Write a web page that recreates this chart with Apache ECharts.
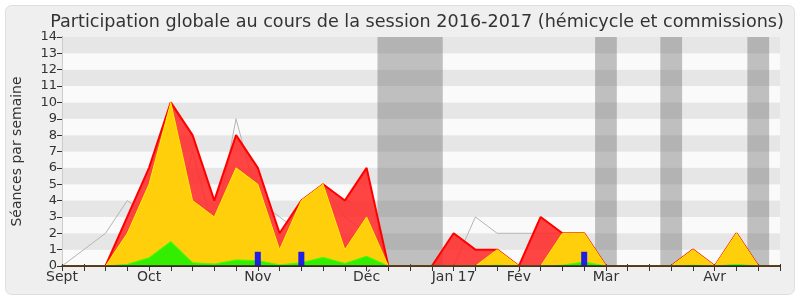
<!DOCTYPE html>
<html>
<head>
<meta charset="utf-8">
<script src="https://cdn.jsdelivr.net/npm/echarts@6/dist/echarts.min.js"></script>
<style>
html,body{margin:0;padding:0;background:#ffffff;}
#chart{width:800px;height:300px;}
</style>
</head>
<body>
<div id="chart"></div>
<script>
// Week tick labels (one entry per week, 34 weeks)
const tickLabels = ['Sept','','','','Oct','','','','','Nov','','','','','Déc','','','','Jan 17','','','Fév','','','','Mar','','','','','Avr','','',''];
// Présence totale (red)
const presenceTotale = [0,0,0,3,6,10,8,4,8,6,2,4,5,4,6,0,0,0,2,1,1,0,3,2,2,0,0,0,0,1,0,2,0,0];
// Présence en commission (yellow)
const presenceCommission = [0,0,0,2,5,10,4,3,6,5,1,4,5,1,3,0,0,0,0,0,1,0,0,2,2,0,0,0,0,1,0,2,0,0];
// Participations (green)
const participations = [0,0,0,0.1,0.5,1.5,0.2,0.12,0.37,0.33,0.07,0.2,0.53,0.16,0.6,0,0,0,0,0,0.05,0,0,0.05,0.25,0,0,0,0,0.05,0,0.1,0,0];
// Médiane des députés (gray line)
const mediane = [0,1,2,4,3,2,7,2,9,4,3,2,5,3,2,0,0,0,0,3,2,2,2,2,2,0,0,0,0,1,0,1,0,0];
// Questions orales (blue bars)
const questionsOrales = [null,null,null,null,null,null,null,null,null,0.87,null,0.87,null,null,null,null,null,null,null,null,null,null,null,null,0.87,null,null,null,null,null,null,null,null,null];
// Vacation weeks (gray bands)
const vacances = [15,16,17,25,28,32];

const pairs = arr => arr.map((v,i)=>[i,v]);

// merge consecutive vacation weeks into runs
const runs = [];
vacances.forEach(w=>{
  const last = runs[runs.length-1];
  if(last && last[1]===w-1){ last[1]=w; } else { runs.push([w,w]); }
});
const areas = runs.map(r=>[{xAxis:r[0]-0.5},{xAxis:r[1]+0.5}]);

const FONT = 'DejaVu Sans';
const chart = echarts.init(document.getElementById('chart'), null, {renderer:'canvas'});
chart.setOption({
  animation:false,
  backgroundColor:'transparent',
  textStyle:{fontFamily:FONT},
  graphic:[{
    type:'rect', z:-10, silent:true,
    shape:{x:5.5,y:5.5,width:789,height:289,r:6},
    style:{fill:'#efefef',stroke:'#dedede',lineWidth:1}
  }],
  title:{
    text:'Participation globale au cours de la session 2016-2017 (hémicycle et commissions)',
    left:412, textAlign:'center', top:8,
    textStyle:{fontFamily:FONT,fontSize:17.6,fontWeight:'normal',color:'#333'}
  },
  grid:{left:62,right:20,top:37,bottom:34},
  xAxis:[{
    type:'value', min:0, max:33, interval:1,
    axisLine:{show:true,lineStyle:{color:'#333',width:1}},
    axisTick:{show:true,length:5,lineStyle:{color:'#333'}},
    axisLabel:{show:true,color:'#333',fontSize:14,fontFamily:FONT,margin:4,
      showMinLabel:true,showMaxLabel:true,
      formatter:v=>tickLabels[v]||''},
    splitLine:{show:false}
  },{
    type:'value', min:0, max:33, interval:1, position:'top',
    axisLine:{show:false},
    axisTick:{show:true,length:2,lineStyle:{color:'#333'}},
    axisLabel:{show:false},
    splitLine:{show:false}
  },{
    type:'value', min:0, max:33, position:'bottom', offset:0, z:10,
    axisLine:{show:true,lineStyle:{color:'#3a2020',width:1.5}},
    axisTick:{show:false}, axisLabel:{show:false}, splitLine:{show:false}
  }],
  yAxis:[{
    type:'value', min:0, max:14, interval:1,
    name:'Séances par semaine', nameLocation:'middle', nameGap:38,
    nameTextStyle:{fontSize:14,color:'#333',fontFamily:FONT},
    axisLine:{show:true,lineStyle:{color:'#333'}},
    axisTick:{show:true,length:5,lineStyle:{color:'#333'}},
    axisLabel:{color:'#333',fontSize:13,fontFamily:FONT,margin:5},
    splitLine:{show:false},
    splitArea:{show:true,areaStyle:{color:['#fafafa','#e6e6e6']}}
  },{
    type:'value', min:0, max:14, interval:1, position:'right',
    axisLine:{show:true,lineStyle:{color:'#cccccc'}},
    axisTick:{show:false}, axisLabel:{show:false},
    splitLine:{show:false}, splitArea:{show:false}
  }],
  series:[
    {
      type:'line', name:'vacances', data:[], z:1, silent:true,
      markArea:{silent:true,itemStyle:{color:'rgba(110,110,110,0.42)'},data:areas}
    },
    {
      type:'line', name:'Médiane', data:pairs(mediane), z:2,
      symbol:'none', lineStyle:{color:'#b4b4b4',width:1}
    },
    {
      type:'line', name:'Présence', data:pairs(presenceTotale), z:3,
      symbol:'none', lineStyle:{color:'#ff0000',width:2},
      areaStyle:{color:'#ff2a2a',opacity:0.88}
    },
    {
      type:'line', name:'Commission', data:pairs(presenceCommission), z:4,
      symbol:'none', lineStyle:{color:'#ffee00',width:1},
      areaStyle:{color:'#ffd40a',opacity:0.97}
    },
    {
      type:'line', name:'Participations', data:pairs(participations), z:5,
      symbol:'none', lineStyle:{color:'#44ff00',width:1},
      areaStyle:{color:'#33ee00',opacity:1}
    },
    {
      type:'bar', name:'Questions orales', data:pairs(questionsOrales), z:6,
      barWidth:6, itemStyle:{color:'#1e1ee6'}
    }
  ]
});
</script>
</body>
</html>
